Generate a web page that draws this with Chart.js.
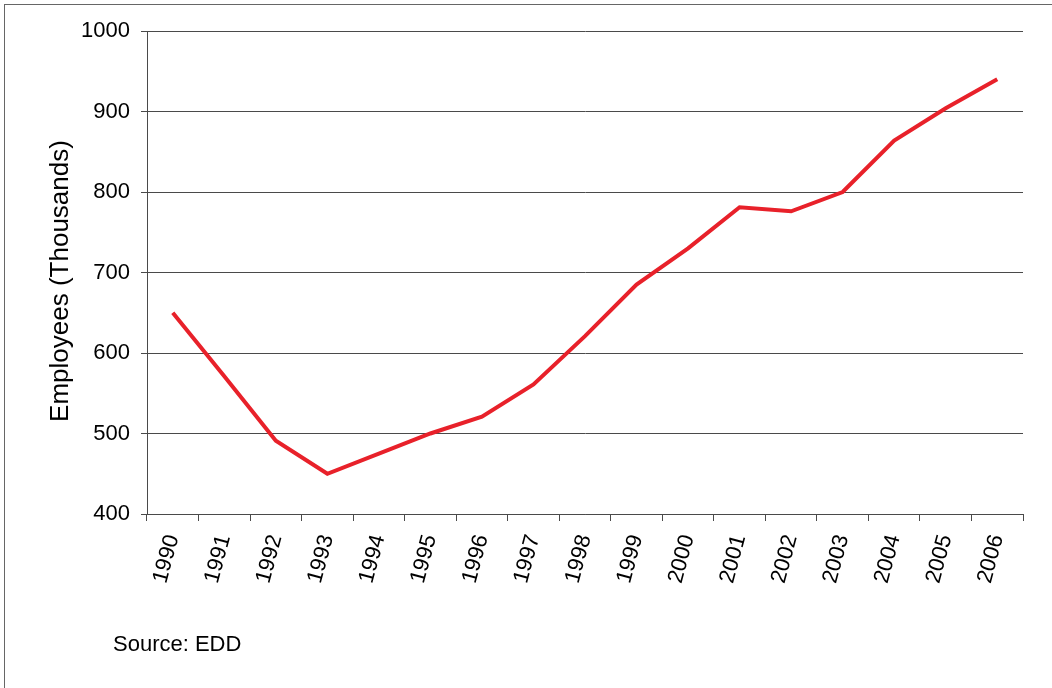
<!DOCTYPE html>
<html>
<head>
<meta charset="utf-8">
<script src="https://cdn.jsdelivr.net/npm/chart.js@4"></script>
<style>
  html, body { margin: 0; padding: 0; background: #fff; }
  #wrap { position: relative; width: 1052px; height: 688px; overflow: hidden; }
  #frame {
    position: absolute; left: 4px; top: 4px; width: 1060px; height: 700px;
    border-top: 1px solid #666; border-left: 1px solid #666;
  }
  #grafica { position: absolute; left: 0; top: 0; }
  #fuente {
    position: absolute; left: 113px; top: 633px;
    font: 22px "Liberation Sans", Arial, sans-serif; line-height: 22px; color: #000;
  }
  #tituloY {
    position: absolute; left: -91px; top: 266px; width: 300px; height: 30px;
    font: 26px "Liberation Sans", Arial, sans-serif; line-height: 30px;
    text-align: center; white-space: nowrap; color: #000;
    transform: rotate(-90deg);
  }
</style>
</head>
<body>
<div id="wrap">
  <div id="frame"></div>
  <canvas id="grafica" width="1052" height="688"></canvas>
  <div id="tituloY">Employees (Thousands)</div>
  <div id="fuente">Source: EDD</div>
</div>
<script>
"use strict";
const years = ["1990", "1991", "1992", "1993", "1994", "1995", "1996", "1997", "1998",
               "1999", "2000", "2001", "2002", "2003", "2004", "2005", "2006"];
const employees = [650, 571, 491, 450, 475, 500, 521, 561, 621,
                   685, 730, 781, 776, 800, 864, 904, 940];
const yTicks = [400, 500, 600, 700, 800, 900, 1000];

const fuente = "'Liberation Sans', Arial, sans-serif";
const colorLinea = "#e8212a";
const colorEje = "#4a4a4a";

const ctx = document.getElementById("grafica").getContext("2d");

new Chart(ctx, {
    type: "line",
    data: {
        labels: years,
        datasets: [{
            label: "Employees",
            data: employees,
            borderColor: colorLinea,
            backgroundColor: colorLinea,
            borderWidth: 4,
            pointRadius: 0,
            tension: 0,
            borderJoinStyle: "miter",
            fill: false
        }]
    },
    options: {
        responsive: false,
        animation: false,
        devicePixelRatio: 1,
        layout: { padding: { left: 0, top: 31, right: 29, bottom: 0 } },
        plugins: {
            legend: { display: false },
            tooltip: { enabled: false }
        },
        scales: {
            x: {
                type: "category",
                offset: true,
                grid: {
                    display: true,
                    offset: true,
                    drawOnChartArea: false,
                    drawTicks: true,
                    tickLength: 7,
                    color: colorEje
                },
                border: { display: true, color: colorEje, width: 1 },
                ticks: {
                    color: "#000",
                    font: { family: fuente, size: 22 },
                    minRotation: 75,
                    maxRotation: 75,
                    autoSkip: false,
                    padding: 11
                },
                afterFit: function (scale) { scale.height = 174; }
            },
            y: {
                min: 400,
                max: 1000,
                afterBuildTicks: function (scale) {
                    scale.ticks = yTicks.map(v => ({ value: v }));
                },
                grid: {
                    color: colorEje,
                    drawTicks: true,
                    tickLength: 6
                },
                border: { display: true, color: colorEje, width: 1 },
                ticks: {
                    color: "#000",
                    font: { family: fuente, size: 22 },
                    padding: 11,
                    callback: function (value) { return String(value); }
                },
                afterFit: function (scale) { scale.width = 147; }
            }
        }
    }
});
</script>
</body>
</html>
